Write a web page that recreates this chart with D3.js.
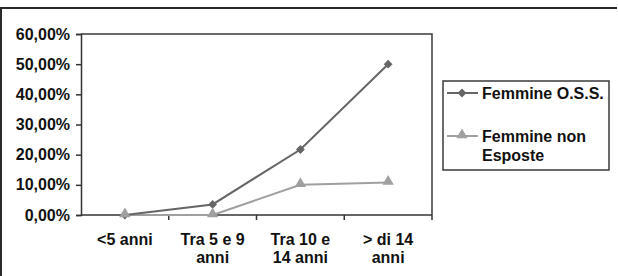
<!DOCTYPE html>
<html>
<head>
<meta charset="utf-8">
<script src="https://cdn.jsdelivr.net/npm/d3@7"></script>
<style>
  body { margin: 0; background: #fff; }
  svg text { font-family: "Liberation Sans", Arial, sans-serif; font-weight: 700; fill: #111; }
</style>
</head>
<body>
<div id="chart"></div>
<script>
// data
const categories = [["<5 anni"], ["Tra 5 e 9", "anni"], ["Tra 10 e", "14 anni"], ["> di 14", "anni"]];
const ossValues = [0, 0.035, 0.217, 0.50];
const nonEsposteValues = [0, 0, 0.10, 0.108];
const yTicks = [0, 0.1, 0.2, 0.3, 0.4, 0.5, 0.6];
const seriesNames = [["Femmine O.S.S."], ["Femmine non", "Esposte"]];

const width = 618, height = 276;
const plot = { left: 81, right: 432, top: 34, bottom: 215 };
const fontSize = 16;
const fmt = v => (v * 100).toFixed(2).replace(".", ",") + "%";

const svg = d3.select("#chart").append("svg")
  .attr("width", width)
  .attr("height", height);

// outer frame (top + left visible)
svg.append("path")
  .attr("d", "M1,276 V8 H617")
  .attr("fill", "none")
  .attr("stroke", "#2a2a2a")
  .attr("stroke-width", 2);

const xScale = d3.scaleBand()
  .domain(d3.range(categories.length))
  .range([plot.left, plot.right]);

const yScale = d3.scaleLinear()
  .domain([0, 0.6])
  .range([plot.bottom, plot.top]);

// plot border (top + right)
svg.append("path")
  .attr("d", `M${plot.left},${plot.top} H${plot.right} V${plot.bottom}`)
  .attr("fill", "none")
  .attr("stroke", "#3a3a3a")
  .attr("stroke-width", 1.5);

// y axis
const yAxis = svg.append("g")
  .attr("transform", `translate(${plot.left},0)`)
  .call(d3.axisLeft(yScale).tickValues(yTicks).tickFormat(fmt).tickSize(5).tickPadding(6));
yAxis.select(".domain").attr("stroke", "#333").attr("stroke-width", 1.5);
yAxis.selectAll(".tick line").attr("stroke", "#333").attr("stroke-width", 1.5);
yAxis.selectAll(".tick text")
  .attr("font-size", fontSize)
  .attr("fill", "#111");

// x axis
const xAxis = svg.append("g")
  .attr("transform", `translate(0,${plot.bottom})`);
xAxis.append("line")
  .attr("x1", plot.left).attr("x2", plot.right)
  .attr("stroke", "#333").attr("stroke-width", 1.5);
xAxis.selectAll(".xtick")
  .data(d3.range(1, categories.length + 1))
  .join("line")
  .attr("class", "xtick")
  .attr("x1", d => d < categories.length ? xScale(d) : plot.right)
  .attr("x2", d => d < categories.length ? xScale(d) : plot.right)
  .attr("y1", 0).attr("y2", 5)
  .attr("stroke", "#333").attr("stroke-width", 1.5);

xAxis.selectAll(".xlabel")
  .data(categories)
  .join("text")
  .attr("class", "xlabel")
  .attr("text-anchor", "middle")
  .attr("font-size", fontSize)
  .attr("transform", (d, i) => `translate(${xScale(i) + xScale.bandwidth() / 2},0)`)
  .selectAll("tspan")
  .data(d => d)
  .join("tspan")
  .attr("x", 0)
  .attr("y", (d, i) => 30 + i * 18)
  .text(d => d);

// lines
const line = d3.line()
  .x((d, i) => xScale(i) + xScale.bandwidth() / 2)
  .y(d => yScale(d));

const colOss = "#666", colNon = "#a0a0a0";

svg.append("path")
  .datum(nonEsposteValues)
  .attr("d", line)
  .attr("fill", "none")
  .attr("stroke", colNon)
  .attr("stroke-width", 2);

svg.append("path")
  .datum(ossValues)
  .attr("d", line)
  .attr("fill", "none")
  .attr("stroke", colOss)
  .attr("stroke-width", 2);

const diamond = d3.symbol().type(d3.symbolDiamond2).size(50);
const triangle = d3.symbol().type(d3.symbolTriangle).size(55);

svg.selectAll(".oss-pt")
  .data(ossValues)
  .join("path")
  .attr("class", "oss-pt")
  .attr("d", diamond)
  .attr("transform", (d, i) => `translate(${xScale(i) + xScale.bandwidth() / 2},${yScale(d)})`)
  .attr("fill", colOss);

svg.selectAll(".non-pt")
  .data(nonEsposteValues)
  .join("path")
  .attr("class", "non-pt")
  .attr("d", triangle)
  .attr("transform", (d, i) => `translate(${xScale(i) + xScale.bandwidth() / 2},${yScale(d) - 1})`)
  .attr("fill", colNon);

// legend
const legend = svg.append("g");
legend.append("rect")
  .attr("x", 443).attr("y", 81)
  .attr("width", 166).attr("height", 89)
  .attr("fill", "#fff")
  .attr("stroke", "#3a3a3a")
  .attr("stroke-width", 1.5);

const legendY = [93, 136];
const legendCols = [colOss, colNon];
const legendSyms = [diamond, triangle];

seriesNames.forEach((name, i) => {
  const g = legend.append("g").attr("transform", `translate(0,${legendY[i]})`);
  g.append("line")
    .attr("x1", 447).attr("x2", 478)
    .attr("stroke", legendCols[i]).attr("stroke-width", 2);
  g.append("path")
    .attr("d", legendSyms[i])
    .attr("transform", `translate(462,${i === 1 ? -1 : 0})`)
    .attr("fill", legendCols[i]);
  g.append("text")
    .attr("font-size", fontSize)
    .selectAll("tspan")
    .data(name)
    .join("tspan")
    .attr("x", 482)
    .attr("y", (d, j) => 6 + j * 19)
    .text(d => d);
});
</script>
</body>
</html>
